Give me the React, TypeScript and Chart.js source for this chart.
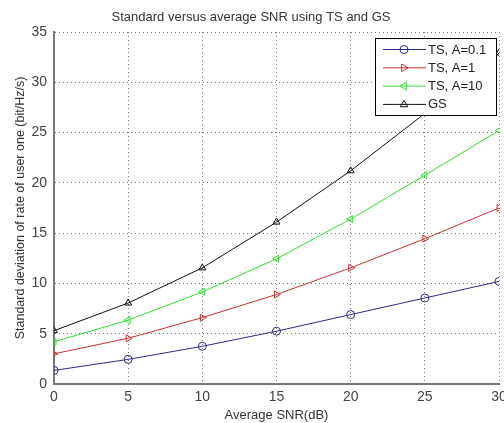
import React, { useEffect, useRef } from "react";
import { Chart, registerables } from "chart.js";

Chart.register(...registerables);

const snr = [0, 5, 10, 15, 20, 25, 30];
const tsA01 = [1.35, 2.45, 3.75, 5.25, 6.9, 8.55, 10.2];
const tsA1 = [3.0, 4.55, 6.6, 8.9, 11.55, 14.45, 17.5];
const tsA10 = [4.2, 6.35, 9.15, 12.45, 16.4, 20.75, 25.2];
const gs = [5.3, 8.05, 11.55, 16.1, 21.2, 26.9, 32.9];
const seriesLabels = ["TS, A=0.1", "TS, A=1", "TS, A=10", "GS"];
const xTicks = [0, 5, 10, 15, 20, 25, 30];
const yTicks = [0, 5, 10, 15, 20, 25, 30, 35];

const colors = ["#2a2a8c", "#cc3333", "#33dd33", "#111111"];
const styles: any[] = ["circle", "triangle", "triangle", "triangle"];
const rotations = [0, 90, -90, 0];

const FONT = "'Liberation Sans', Arial, sans-serif";

function drawMarker(ctx: CanvasRenderingContext2D, style: string, rot: number, x: number, y: number, r: number) {
  ctx.save();
  ctx.translate(x, y);
  ctx.rotate((rot * Math.PI) / 180);
  ctx.beginPath();
  if (style === "circle") {
    ctx.arc(0, 0, r, 0, Math.PI * 2);
  } else {
    const s = r;
    ctx.moveTo(0, -s);
    ctx.lineTo(s * 0.95, s * 0.6);
    ctx.lineTo(-s * 0.95, s * 0.6);
    ctx.closePath();
  }
  ctx.stroke();
  ctx.restore();
}

const legendPlugin = {
  id: "boxLegend",
  afterDraw(chart: any) {
    const ctx = chart.ctx;
    const x0 = 375, y0 = 38, w = 121, h = 77;
    ctx.save();
    ctx.fillStyle = "#ffffff";
    ctx.fillRect(x0, y0, w, h);
    ctx.strokeStyle = "#000000";
    ctx.lineWidth = 1;
    ctx.strokeRect(x0 + 0.5, y0 + 0.5, w, h);
    ctx.font = `13px ${FONT}`;
    ctx.textBaseline = "middle";
    ctx.textAlign = "left";
    chart.data.datasets.forEach((ds: any, i: number) => {
      const y = 49.5 + i * 18.3;
      ctx.strokeStyle = ds.borderColor;
      ctx.lineWidth = 1;
      ctx.beginPath();
      ctx.moveTo(383, y);
      ctx.lineTo(426, y);
      ctx.stroke();
      drawMarker(ctx, ds.pointStyle, ds.pointRotation, 404, y, 4);
      ctx.fillStyle = "#222222";
      ctx.fillText(ds.label, 428, y + 0.5);
    });
    ctx.restore();
  },
};

export default function App() {
  const ref = useRef<HTMLCanvasElement>(null);
  useEffect(() => {
    document.body.style.margin = "0";
    const seriesData = [tsA01, tsA1, tsA10, gs];
    const chart = new Chart(ref.current!, {
      type: "line",
      data: {
        datasets: seriesData.map((vals, i) => ({
          label: seriesLabels[i],
          data: snr.map((x, j) => ({ x, y: vals[j] })),
          borderColor: colors[i],
          backgroundColor: "transparent",
          pointBackgroundColor: "transparent",
          pointBorderColor: colors[i],
          pointStyle: styles[i],
          pointRotation: rotations[i],
          pointRadius: 4,
          pointBorderWidth: 1,
          borderWidth: 1,
          tension: 0,
        })),
      },
      options: {
        animation: false,
        responsive: false,
        devicePixelRatio: 1,
        layout: { padding: { left: 0, right: 2, top: 0, bottom: 0 } },
        plugins: {
          legend: { display: false },
          tooltip: { enabled: false },
          title: {
            display: true,
            text: "Standard versus average SNR using TS and GS",
            color: "#333333",
            font: { family: FONT, size: 13, weight: "normal" },
            padding: { top: 10, bottom: 6.4 },
          },
        },
        scales: {
          x: {
            type: "linear",
            min: 0,
            max: 30,
            afterBuildTicks: (s: any) => {
              s.ticks = xTicks.map((v) => ({ value: v }));
            },
            afterFit: (s: any) => {
              s.height = 39;
              s.paddingRight = 0;
              s.paddingLeft = 0;
            },
            ticks: {
              color: "#444444",
              font: { family: FONT, size: 14 },
              padding: 5,
              maxRotation: 0,
            },
            grid: { color: "#777777", lineWidth: 1, drawTicks: false },
            border: { display: true, color: "#777777", width: 2, dash: [1, 3] },
            title: {
              display: true,
              text: "Average SNR(dB)",
              color: "#333333",
              font: { family: FONT, size: 13 },
              padding: { top: 0, bottom: 0 },
            },
          },
          y: {
            type: "linear",
            min: 0,
            max: 35,
            afterBuildTicks: (s: any) => {
              s.ticks = yTicks.map((v) => ({ value: v }));
            },
            afterFit: (s: any) => {
              s.width = 54;
              s.paddingTop = 0;
              s.paddingBottom = 0;
            },
            ticks: {
              color: "#444444",
              font: { family: FONT, size: 14 },
              padding: 7,
            },
            grid: { color: "#777777", lineWidth: 1, drawTicks: false },
            border: { display: true, color: "#777777", width: 2, dash: [1, 3] },
            title: {
              display: true,
              text: "Standard deviation of rate of user one (bit/Hz/s)",
              color: "#333333",
              font: { family: FONT, size: 12.5 },
              padding: { top: 13, bottom: 2 },
            },
          },
        },
      },
      plugins: [legendPlugin],
    } as any);
    return () => chart.destroy();
  }, []);
  return (
    <div style={{ position: "absolute", left: 0, top: 0, width: 504, height: 423, background: "#fff" }}>
      <canvas ref={ref} width={504} height={423} style={{ display: "block" }} />
    </div>
  );
}
